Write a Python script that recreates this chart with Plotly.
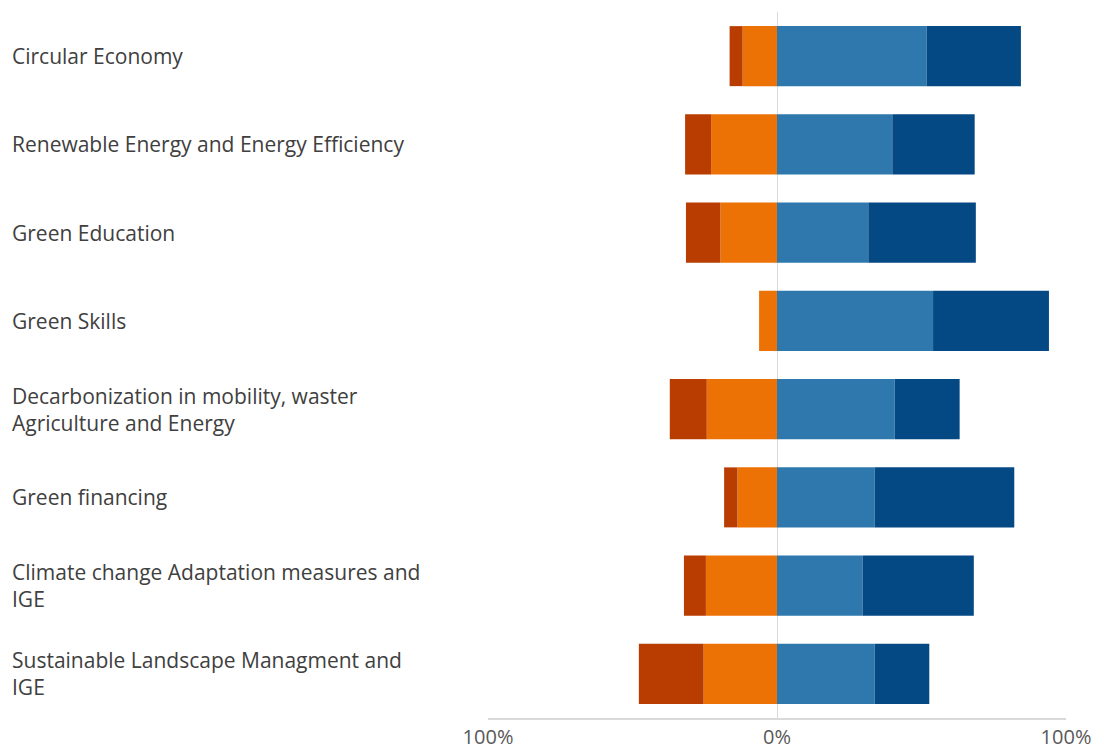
import plotly.graph_objects as go

categories = [
    "Circular Economy",
    "Renewable Energy and Energy Efficiency",
    "Green Education",
    "Green Skills",
    "Decarbonization in mobility, waster<br>Agriculture and Energy",
    "Green financing",
    "Climate change Adaptation measures and<br>IGE",
    "Sustainable Landscape Managment and<br>IGE",
]

# percentages
strongly_disagree = [4.5, 9.0, 11.9, 0.0, 12.8, 4.6, 7.6, 22.4]
disagree = [11.9, 22.8, 19.6, 6.2, 24.3, 13.7, 24.6, 25.4]
agree = [51.8, 39.9, 31.6, 54.0, 40.7, 33.8, 29.6, 33.8]
strongly_agree = [32.6, 28.5, 37.2, 40.1, 22.5, 48.3, 38.5, 18.9]

tick_vals = [-100, 0, 100]
tick_text = ["100%", "0%", "100%"]

ids = list(range(len(categories)))

fig = go.Figure()
fig.add_trace(go.Bar(y=ids, x=[-v for v in disagree], orientation="h",
                     marker=dict(color="#EC7206", line=dict(width=0)), name="Disagree"))
fig.add_trace(go.Bar(y=ids, x=[-v for v in strongly_disagree], orientation="h",
                     marker=dict(color="#B93C00", line=dict(width=0)), name="Strongly disagree"))
fig.add_trace(go.Bar(y=ids, x=agree, orientation="h",
                     marker=dict(color="#2E78AD", line=dict(width=0)), name="Agree"))
fig.add_trace(go.Bar(y=ids, x=strongly_agree, orientation="h",
                     marker=dict(color="#044983", line=dict(width=0)), name="Strongly agree"))

L, R, T, B = 488, 38, 12, 33
W, H = 1104, 751
plot_w = W - L - R

for i, c in enumerate(categories):
    fig.add_annotation(
        x=(10 - L) / plot_w, xref="paper", xanchor="left",
        y=i, yref="y", yanchor="middle",
        text=c, showarrow=False, align="left",
        font=dict(family="Open Sans, Noto Sans, sans-serif", size=21, color="#404040"),
    )

fig.update_layout(
    width=W, height=H,
    margin=dict(l=L, r=R, t=T, b=B, autoexpand=False),
    barmode="relative",
    bargap=0.32,
    showlegend=False,
    plot_bgcolor="white",
    paper_bgcolor="white",
    xaxis=dict(
        range=[-100, 100],
        tickvals=tick_vals, ticktext=tick_text,
        showgrid=True, gridcolor="#D9D9D9", gridwidth=1.5,
        zeroline=True, zerolinecolor="#D9D9D9", zerolinewidth=1,
        showline=True, linecolor="#D9D9D9", linewidth=1.5,
        ticks="", ticklabelstandoff=0, automargin=False,
        tickfont=dict(family="Open Sans, Noto Sans, sans-serif", size=20, color="#595959"),
        fixedrange=True,
    ),
    yaxis=dict(
        range=[len(categories) - 0.5, -0.5],
        showticklabels=False, showgrid=False, zeroline=False,
        tickvals=ids, automargin=False, fixedrange=True,
    ),
)

fig.write_html(
    "out.html",
    config={"displayModeBar": False},
    post_script="document.body.style.margin='0px';document.body.style.overflow='hidden';",
)
